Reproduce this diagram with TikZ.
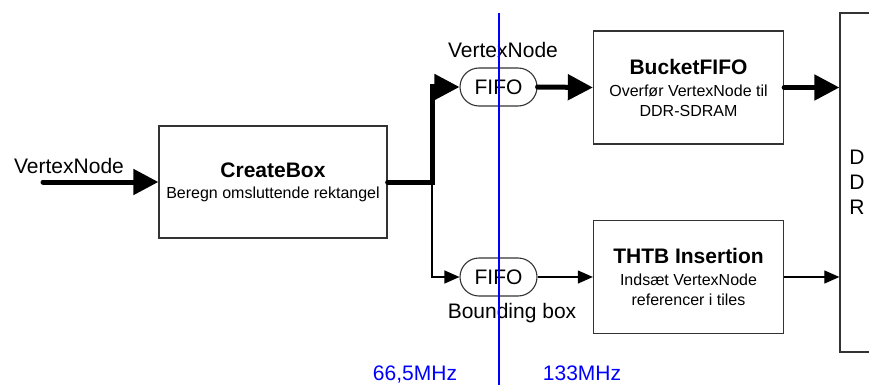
\documentclass[tikz,border=0pt]{standalone}
\usepackage{fontspec}
\setmainfont{Liberation Sans}
\usetikzlibrary{arrows.meta,positioning,shapes.misc}
\definecolor{clock}{HTML}{0000FF}
\definecolor{frame}{HTML}{333333}
\newcommand{\blocktitle}{\fontsize{21}{24}\selectfont\bfseries}
\newcommand{\blocktext}{\fontsize{16}{20}\selectfont}
\newcommand{\plaintext}{\fontsize{21}{25}\selectfont}

\begin{document}
\begin{tikzpicture}[
  x=1pt, y=-1pt,
  stage/.style={draw=frame, line width=1.3pt, minimum width=190pt, minimum height=113pt, inner sep=0pt, align=center, font=\blocktext},
  fifo/.style={draw=frame, line width=1.1pt, rounded rectangle, minimum width=77pt, minimum height=38pt, inner sep=0pt, font=\plaintext},
  bus/.style={line width=5pt, line cap=round, -{Triangle[length=25pt,width=25pt]}},
  sig/.style={line width=1.1pt, -{Triangle[length=15pt,width=13pt]}},
  tag/.style={anchor=base, inner sep=0pt, font=\plaintext}
]
  \useasboundingbox (0,0) rectangle (869,385);
  \clip (0,0) rectangle (869,385);

  % blocks
  \node[stage, minimum width=228pt, minimum height=112pt] (create) at (273,182)
    {{\blocktitle CreateBox}\\[1pt] Beregn omsluttende rektangel};
  \node[stage] (bucket) at (688.5,87.5)
    {{\blocktitle BucketFIFO}\\[2pt] Overfør VertexNode til\\DDR-SDRAM};
  \node[stage] (thtb) at (688.5,277)
    {{\blocktitle THTB Insertion}\\[2pt] Indsæt VertexNode\\referencer i tiles};
  \node[draw=frame, line width=1.3pt, minimum width=34pt, minimum height=339pt, inner sep=0pt, align=center, font=\plaintext] (ddr) at (857,182.5)
    {D\\D\\R};

  % fifos
  \node[fifo] (fifoA) at (498.5,87) {FIFO};
  \node[fifo] (fifoB) at (498.5,277) {FIFO};

  % labels
  \node[tag] (inlabel) at (69,173) {VertexNode};
  \node[tag] (vnlabel) at (503,58) {VertexNode};
  \node[tag] (bblabel) at (512,318) {Bounding box};
  \node[tag, text=clock] (slowclk) at (415,380) {66,5MHz};
  \node[tag, text=clock] (fastclk) at (582,380) {133MHz};

  % connections
  \coordinate (src) at (43,182);
  \coordinate (split) at (432,182);
  \draw[bus] (src) -- (create.west);
  \draw[bus] (create.east) -- (split) |- (fifoA.west);
  \draw[sig] (split) |- (fifoB.west);
  \draw[bus] (fifoA.east) -- (bucket.west);
  \draw[sig] (fifoB.east) -- (thtb.west);
  \draw[bus] (bucket.east) -- (bucket.east -| ddr.west);
  \draw[sig] (thtb.east) -- (thtb.east -| ddr.west);

  % clock domain border
  \coordinate (clktop) at (499,13);
  \coordinate (clkbot) at (499,385);
  \draw[draw=clock, line width=1.3pt] (clktop) -- (clkbot);
\end{tikzpicture}
\end{document}
